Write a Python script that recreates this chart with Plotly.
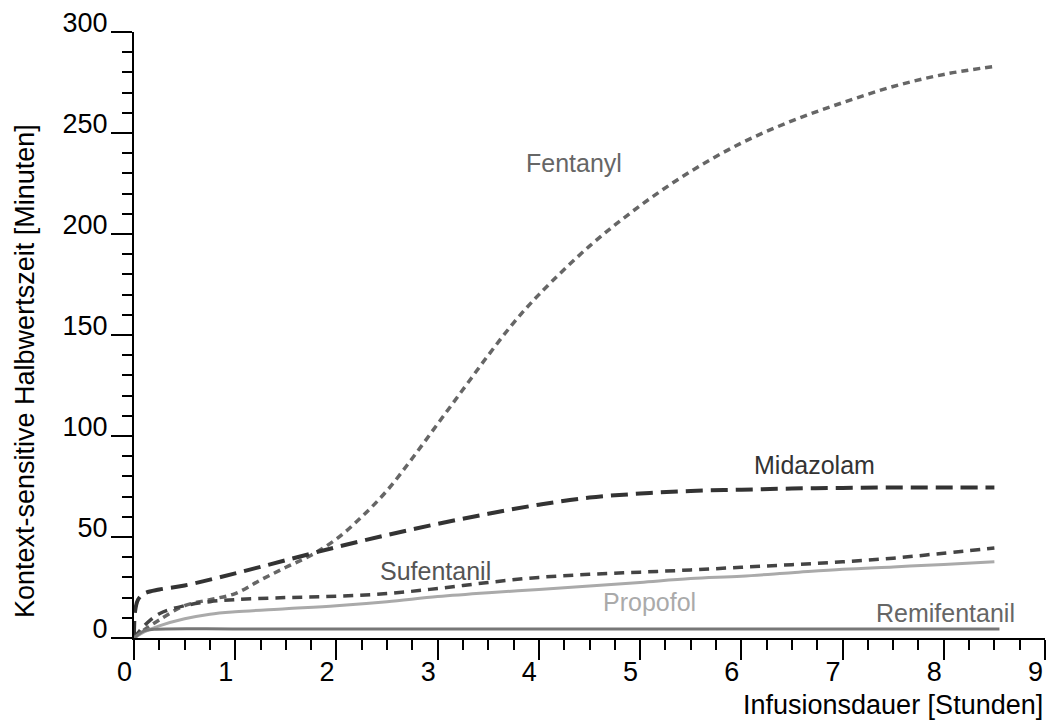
import plotly.graph_objects as go

# context-sensitive half-time
fentanyl_x = [0, 0.1, 0.25, 0.5, 0.75, 1, 1.25, 1.5, 1.75, 2, 2.25, 2.5, 2.75, 3, 3.25, 3.5,
              3.75, 4, 4.5, 5, 5.5, 6, 6.5, 7, 7.5, 8, 8.5]
fentanyl_y = [0, 4, 9, 16, 19, 22, 28.7, 35, 41, 49, 60, 73, 89, 106, 123, 140,
              156, 170, 194, 214, 231, 245, 256, 265, 273, 279, 283]

midazolam_x = [0, 0.01, 0.04, 0.1, 0.25, 0.5, 1, 1.5, 2, 2.5, 3, 3.5, 4, 4.5, 5, 5.5,
               6, 6.5, 7, 7.5, 8, 8.5]
midazolam_y = [0, 13, 19, 22, 24, 26, 32, 38.5, 45, 51, 56.5, 61.5, 66, 69.5, 71.5, 72.8,
               73.4, 74, 74.3, 74.5, 74.5, 74.5]

sufentanil_x = [0, 0.1, 0.25, 0.5, 0.75, 1, 1.5, 2, 2.5, 3, 3.5, 4, 4.5, 5, 5.5, 6, 6.5,
                7, 7.5, 8, 8.5]
sufentanil_y = [0, 6, 12, 16, 18, 19, 20, 20.7, 22, 24.5, 27.5, 30, 31.5, 32.6, 33.7, 35, 36.3,
                37.7, 39.5, 42, 44.5]

propofol_x = [0, 0.1, 0.25, 0.5, 0.75, 1, 1.5, 2, 2.5, 3, 3.5, 4, 4.5, 5, 5.5, 6, 6.5,
              7, 7.5, 8, 8.5]
propofol_y = [0, 3, 6, 9.5, 11.8, 13, 14.5, 16, 18, 20.5, 22.4, 24, 25.7, 27.5, 29.4, 30.6, 32.3,
              34, 35.2, 36.4, 37.8]

remifentanil_x = [0, 0.1, 0.2, 1, 2, 3, 4, 5, 6, 7, 8, 8.55]
remifentanil_y = [0, 3.5, 4.3, 4.5, 4.5, 4.5, 4.5, 4.5, 4.5, 4.5, 4.5, 4.5]

labels = ['Fentanyl', 'Midazolam', 'Sufentanil', 'Propofol', 'Remifentanil']
label_x = [4.35, 6.72, 2.98, 5.09, 8.02]
label_y = [235, 85.7, 33.2, 17.8, 12.4]
label_colors = ['#666666', '#333333', '#555555', '#aaaaaa', '#666666']

FONT = 'Liberation Sans, Arial, sans-serif'

fig = go.Figure()

series = [
    (fentanyl_x, fentanyl_y, '#666666', 3.5, '7px,5px'),
    (midazolam_x, midazolam_y, '#333333', 4, '17px,8px'),
    (sufentanil_x, sufentanil_y, '#444444', 3.5, '10px,7px'),
    (propofol_x, propofol_y, '#aaaaaa', 3, 'solid'),
    (remifentanil_x, remifentanil_y, '#777777', 3, 'solid'),
]
for (xs, ys, col, w, dash), name in zip(series, labels):
    fig.add_trace(go.Scatter(
        x=xs, y=ys, name=name, mode='lines',
        line=dict(color=col, width=w, dash=dash, shape='spline', smoothing=1.0),
        hoverinfo='skip',
    ))

for txt, lx, ly, col in zip(labels, label_x, label_y, label_colors):
    fig.add_annotation(x=lx, y=ly, text=txt, showarrow=False,
                       font=dict(size=25, color=col, family=FONT))

# axis titles
fig.add_annotation(xref='paper', yref='paper', x=1.0, y=-0.083, xanchor='right', yanchor='top',
                   text='Infusionsdauer [Stunden]', showarrow=False,
                   font=dict(size=27, color='black', family=FONT))
fig.add_annotation(xref='paper', yref='paper', x=-0.1376, y=0.44, textangle=-90,
                   text='Kontext-sensitive Halbwertszeit [Minuten]', showarrow=False,
                   font=dict(size=27, color='black', family=FONT))

# page body adds an 8px margin, so the figure is a bit smaller than the window
fig.update_layout(
    width=1046, height=712,
    margin=dict(l=126, r=9, t=24, b=82, autoexpand=False),
    plot_bgcolor='white', paper_bgcolor='white',
    showlegend=False,
    font=dict(family=FONT, size=27, color='black'),
)
fig.update_xaxes(
    range=[0, 9], dtick=1, tick0=0, showgrid=False, zeroline=False, automargin=False,
    showline=True, linecolor='black', linewidth=2,
    ticks='outside', ticklen=20, tickwidth=2, tickcolor='black',
    ticklabelposition='outside left', ticklabeloverflow='allow', ticklabelstandoff=9,
    minor=dict(dtick=0.25, tick0=0, ticks='outside', ticklen=10, tickwidth=2, tickcolor='black'),
)
fig.update_yaxes(
    range=[0, 300], dtick=50, tick0=0, showgrid=False, zeroline=False, automargin=False,
    showline=True, linecolor='black', linewidth=2,
    ticks='outside', ticklen=21, tickwidth=2, tickcolor='black',
    ticklabelposition='outside top', ticklabeloverflow='allow',
    ticklabelstandoff=19, ticklabelshift=10,
    minor=dict(dtick=10, tick0=0, ticks='outside', ticklen=10, tickwidth=2, tickcolor='black'),
)

fig.write_html('out.html')
